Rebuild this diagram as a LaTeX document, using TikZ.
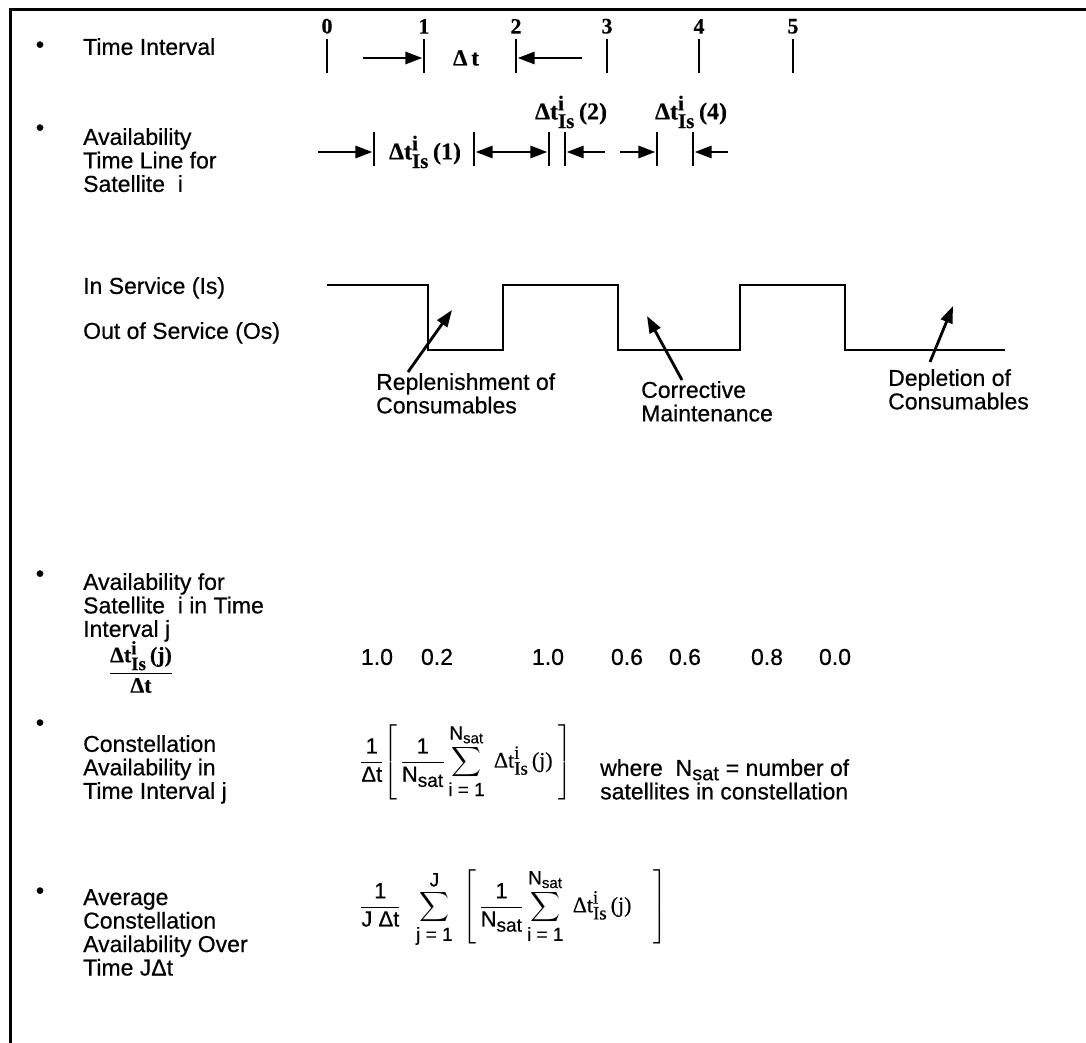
\documentclass[tikz,border=0pt]{standalone}
\usepackage{fontspec}
\usepackage{amsmath}
\setmainfont{Liberation Sans}[FakeBold=0.5]
\newfontfamily\serifface{Liberation Serif}[FakeBold=0.4]
\usetikzlibrary{arrows.meta,positioning}

% larger script sizes for the formulas
\DeclareMathSizes{22}{22}{19}{15}
\DeclareMathSizes{23}{23}{20}{16}
\DeclareMathSizes{24}{24}{21}{17}

% serif pieces of the notation
\newcommand{\serb}{\serifface\bfseries}
\newcommand{\serr}{\serifface}
\newcommand{\DtIs}[2]{\text{#1Δt}^{\text{#1i}}_{\text{#1Is}}\,\text{#1(#2)}}
\newcommand{\Nsat}{\text{N}_{\text{sat}}}

\tikzset{
  x=1pt, y=-1pt,
  lbl/.style={anchor=north west, align=left, inner sep=0pt,
              font=\fontsize{23}{23.5}\selectfont},
  bull/.style={inner sep=0pt, font=\fontsize{24}{24}\selectfont},
  tickmark/.style={fill=black, inner sep=0pt, minimum width=2.8pt, minimum height=34pt},
  digit/.style={inner sep=0pt, font=\fontsize{22}{22}\serb},
  spanlabel/.style={inner sep=0pt, font=\fontsize{24}{24}\selectfont},
  val/.style={inner sep=0pt, font=\fontsize{23}{23}\selectfont},
  arr/.style={line width=2.8pt, -{Triangle[length=17pt,width=12pt]}},
  darr/.style={line width=2.8pt, {Triangle[length=17pt,width=12pt]}-{Triangle[length=17pt,width=12pt]}},
  wave/.style={line width=2.8pt, line join=miter},
  frame/.style={line width=3pt},
  formula/.style={inner sep=0pt, anchor=west, font=\fontsize{22}{23}\selectfont},
}

\begin{document}
\begin{tikzpicture}
\useasboundingbox (0,0) rectangle (1086,1043);

% frame: top and left edges
\draw[frame] (10,1043) -- (10,10) -- (1086,10);

% bullets
\foreach \n/\y in {b1/47, b2/130, b3/576, b4/725, b5/893}
  \node[bull] (\n) at (40,\y) {•};

% left-hand captions
\node[lbl] (lTime) at (83,38) {Time Interval};
\node[lbl] (lAvail) at (83,128) {Availability\\Time Line for\\Satellite\ \ i};
\node[lbl] (lIs) at (83,277) {In Service (Is)};
\node[lbl] (lOs) at (83,322) {Out of Service (Os)};
\node[lbl] (lSat) at (83,573) {Availability for\\Satellite\ \ i in Time\\Interval j};
\node[lbl] (lCon) at (83,735) {Constellation\\Availability in\\Time Interval j};
\node[lbl] (lAvg) at (83,889) {Average\\Constellation\\Availability Over\\Time JΔt};

% time interval scale
\foreach \k/\x in {0/327, 1/424, 2/516, 3/607, 4/699, 5/793} {
  \node[tickmark] (T\k) at (\x,56) {};
  \node[digit, above=5pt of T\k] (D\k) {\k};
}
\node[digit, font=\fontsize{23}{23}\serb] (dt) at (466,58) {Δ\,t};
\coordinate (a1) at (363,58);
\coordinate (a2) at (582,58);
\draw[arr] (a1) -- (T1.west |- a1);
\draw[arr] (a2) -- (T2.east |- a2);

% availability time line markers
\foreach \k/\x in {1/374, 2/474, 3/549, 4/565, 5/657, 6/693}
  \node[tickmark] (R\k) at (\x,149) {};
\coordinate (r0) at (318,152);
\coordinate (r4) at (605,152);
\coordinate (r5) at (620,152);
\coordinate (r6) at (728,152);
\draw[arr] (r0) -- (R1.west |- r0);
\draw[darr] (R2.east |- r0) -- (R3.west |- r0);
\draw[arr] (r4) -- (R4.east |- r4);
\draw[arr] (r5) -- (R5.west |- r5);
\draw[arr] (r6) -- (R6.east |- r6);
\node[spanlabel] (i1) at (425,152) {$\DtIs{\serb}{1}$};
\node[spanlabel] (i2) at (571,112) {$\DtIs{\serb}{2}$};
\node[spanlabel] (i4) at (691,112) {$\DtIs{\serb}{4}$};

% in-service / out-of-service trace
\draw[wave] (327,285) -- (428,285) -- (428,350) -- (503,350) -- (503,285)
  -- (618,285) -- (618,350) -- (740,350) -- (740,285) -- (845,285)
  -- (845,350) -- (1005,350);

% event annotations
\node[lbl] (nRep) at (376,373) {Replenishment of\\Consumables};
\node[lbl] (nCor) at (641,381) {Corrective\\Maintenance};
\node[lbl] (nDep) at (888,369) {Depletion of\\Consumables};
\coordinate (pRep0) at (408,372);
\coordinate (pRep1) at (452,310);
\coordinate (pCor0) at (682,380);
\coordinate (pCor1) at (647,316);
\coordinate (pDep0) at (930,362);
\coordinate (pDep1) at (953,306);
\draw[arr] (pRep0) -- (pRep1);
\draw[arr] (pCor0) -- (pCor1);
\draw[arr] (pDep0) -- (pDep1);

% per-interval availability
\node[inner sep=0pt, font=\fontsize{22}{22}\selectfont] (frac) at (141,667)
  {$\dfrac{\DtIs{\serb}{j}}{\text{\serb Δt}}$};
\foreach \n/\x/\v in {v1/377/1.0, v2/437/0.2, v3/548/1.0, v4/627/0.6,
                      v5/685/0.6, v6/767/0.8, v7/835/0.0}
  \node[val] (\n) at (\x,657) {\v};

% constellation availability in interval j
\node[formula] (fCon) at (360,762)
  {$\dfrac{\text{1}}{\text{Δt}}\!\left[\,\dfrac{\text{1}}{\Nsat}
    \displaystyle\sum_{\text{i = 1}}^{\Nsat}\;\DtIs{\serr}{j}\;\right]$};
\node[lbl] (nWhere) at (600,759) {where\ \ N\textsubscript{sat} = number of\\satellites in constellation};

% average constellation availability
\node[formula] (fAvg) at (360,908)
  {$\dfrac{\text{1}}{\text{J Δt}}\ \ \displaystyle\sum_{\text{j = 1}}^{\text{J}}\ \left[\,\dfrac{\text{1}}{\Nsat}
    \sum_{\text{i = 1}}^{\Nsat}\;\DtIs{\serr}{j}\quad\right]$};
\end{tikzpicture}
\end{document}
